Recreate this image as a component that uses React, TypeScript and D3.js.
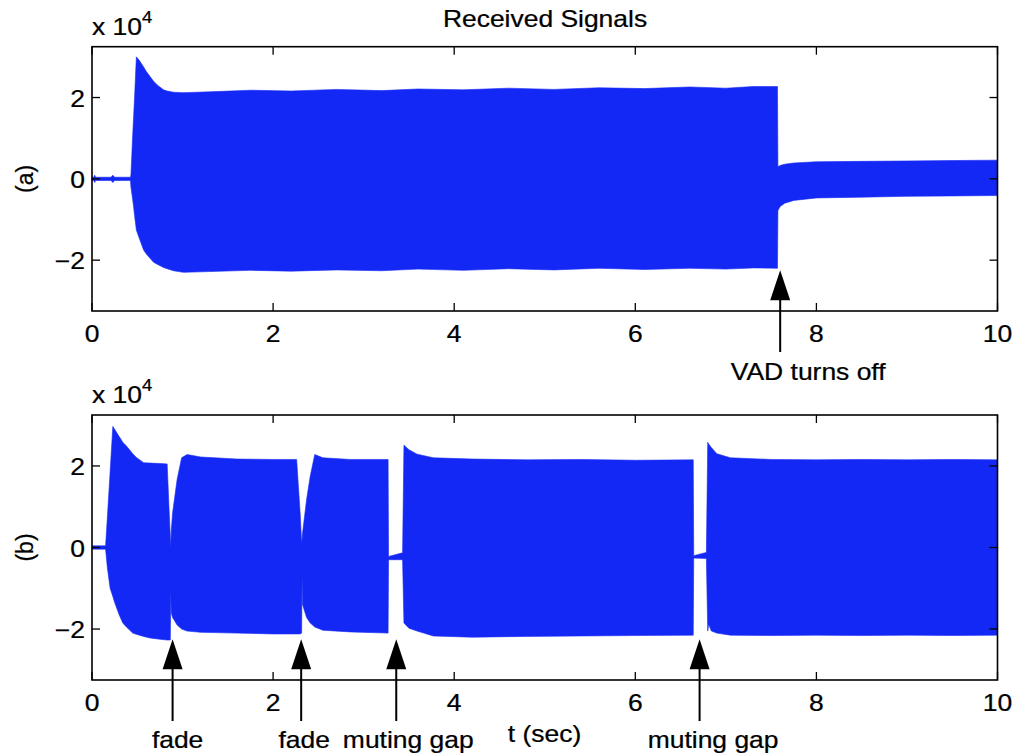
import React from 'react';
import * as d3 from 'd3';

// ---------- data (signal envelope, units of 1e4) ----------
const xTicks = [0, 2, 4, 6, 8, 10];
const yTicks = [-2, 0, 2];
const yTickLabels = ['\u22122', '0', '2'];

// Panel (a)
const tA = [0, 0.02, 0.03, 0.04, 0.21, 0.23, 0.25, 0.425, 0.43, 0.45, 0.46, 0.47, 0.49, 0.52, 0.57, 0.6, 0.68, 0.72, 0.79, 0.83, 0.9, 1.01, 1.3, 1.75, 2.2, 2.7, 3.2, 3.6, 4.1, 4.6, 5.1, 5.6, 6.1, 6.6, 7.0, 7.3, 7.57, 7.575, 7.6, 7.65, 7.75, 8.0, 8.5, 9.0, 9.5, 10];
const upA = [0.04, 0.04, 0.09, 0.04, 0.04, 0.09, 0.04, 0.04, 0.1, 1.1, 1.55, 2.0, 3.0, 2.92, 2.75, 2.64, 2.4, 2.31, 2.19, 2.16, 2.13, 2.12, 2.14, 2.18, 2.16, 2.2, 2.17, 2.21, 2.19, 2.23, 2.2, 2.24, 2.22, 2.26, 2.23, 2.27, 2.27, 0.3, 0.33, 0.36, 0.39, 0.42, 0.43, 0.44, 0.45, 0.46];
const loA = [-0.04, -0.04, -0.09, -0.04, -0.04, -0.09, -0.04, -0.04, -0.2, -0.52, -0.7, -0.9, -1.26, -1.45, -1.75, -1.85, -2.05, -2.1, -2.18, -2.21, -2.26, -2.3, -2.28, -2.25, -2.27, -2.24, -2.26, -2.22, -2.25, -2.21, -2.24, -2.2, -2.23, -2.2, -2.22, -2.19, -2.2, -0.78, -0.68, -0.6, -0.53, -0.47, -0.45, -0.43, -0.42, -0.41];

// Panel (b)
const tB = [0, 0.15, 0.17, 0.2, 0.23, 0.25, 0.3, 0.34, 0.38, 0.45, 0.49, 0.57, 0.64, 0.75, 0.83, 0.85, 0.865, 0.87, 0.875, 0.89, 0.94, 0.99, 1.05, 1.2, 1.6, 2.0, 2.26, 2.3, 2.315, 2.32, 2.325, 2.37, 2.41, 2.46, 2.55, 2.85, 3.27, 3.275, 3.43, 3.445, 3.5, 3.59, 3.77, 4.2, 4.8, 5.4, 6.0, 6.64, 6.645, 6.785, 6.8, 6.81, 6.84, 6.9, 7.05, 7.5, 8.0, 8.5, 9.0, 9.5, 10];
const upB = [0.04, 0.04, 0.75, 1.85, 2.97, 2.9, 2.72, 2.58, 2.49, 2.3, 2.21, 2.08, 2.07, 2.06, 2.05, 1.0, 0.25, 0.0, 0.4, 0.85, 1.67, 2.2, 2.28, 2.22, 2.17, 2.16, 2.16, 0.8, 0.11, 0.2, 0.35, 1.18, 1.75, 2.28, 2.2, 2.16, 2.16, -0.22, -0.13, 2.51, 2.4, 2.29, 2.2, 2.17, 2.15, 2.16, 2.14, 2.15, -0.2, -0.12, 2.58, 2.54, 2.45, 2.3, 2.2, 2.16, 2.15, 2.16, 2.15, 2.16, 2.15];
const loB = [-0.04, -0.04, -0.5, -1.0, -1.2, -1.35, -1.65, -1.85, -1.95, -2.1, -2.13, -2.18, -2.22, -2.25, -2.27, -2.27, -2.27, -1.05, -1.6, -1.72, -1.9, -2.0, -2.05, -2.08, -2.1, -2.12, -2.12, -2.12, -2.1, -0.71, -1.4, -1.72, -1.85, -1.95, -2.03, -2.07, -2.1, -0.3, -0.3, -1.85, -1.98, -2.05, -2.17, -2.2, -2.18, -2.17, -2.16, -2.15, -0.26, -0.27, -2.05, -1.88, -2.05, -2.1, -2.15, -2.16, -2.15, -2.16, -2.15, -2.16, -2.15];

// Annotations
const arrowTimesA = [7.6];
const arrowLabelsA = ['VAD turns off'];
const arrowTimesB = [0.89, 2.31, 3.36, 6.71];
const arrowLabelsB = ['fade', 'fade', 'muting gap', 'muting gap'];
const arrowTipValue = -2.25;

// ---------- layout ----------
const W = 1016, H = 756;
const X0 = 92, X1 = 997.5;
const FONT = '"Liberation Sans", Arial, Helvetica, sans-serif';
const BLUE = '#1428f5';

function T({ x, y, children, anchor = 'middle', size = 23, rotate = 0, sx = 1.15 }: any) {
  return (
    <text
      transform={`translate(${x},${y}) rotate(${rotate}) scale(${sx},1)`}
      textAnchor={anchor}
      fontSize={size}
      fontFamily={FONT}
      fill="#000"
      stroke="#000"
      strokeWidth={0.25}
    >
      {children}
    </text>
  );
}

function Panel({ t, up, lo, top, bottom, arrows, labels, labelDx, name }: any) {
  const x = d3.scaleLinear().domain([0, 10]).range([X0, X1]);
  const y = d3.scaleLinear().domain([-3.25, 3.25]).range([bottom, top]);
  const data = t.map((tt: number, i: number) => ({ t: tt, u: up[i], l: lo[i] }));
  const area = d3
    .area<any>()
    .x((d) => x(d.t))
    .y0((d) => y(d.l))
    .y1((d) => y(d.u));
  const tl = 8;
  return (
    <g>
      <path d={area(data) || ''} fill={BLUE} stroke={BLUE} strokeWidth={0.6} />
      <rect x={X0} y={top} width={X1 - X0} height={bottom - top} fill="none" stroke="#000" strokeWidth={1.6} />
      {xTicks.map((v) => (
        <g key={'x' + v}>
          <line x1={x(v)} x2={x(v)} y1={bottom} y2={bottom - tl} stroke="#000" strokeWidth={1.3} />
          <line x1={x(v)} x2={x(v)} y1={top} y2={top + tl} stroke="#000" strokeWidth={1.3} />
          <T x={x(v)} y={bottom + 31}>{String(v)}</T>
        </g>
      ))}
      {yTicks.map((v, i) => (
        <g key={'y' + v}>
          <line x1={X0} x2={X0 + tl} y1={y(v)} y2={y(v)} stroke="#000" strokeWidth={1.3} />
          <line x1={X1} x2={X1 - tl} y1={y(v)} y2={y(v)} stroke="#000" strokeWidth={1.3} />
          <T x={85} y={y(v) + 9} anchor="end">{yTickLabels[i]}</T>
        </g>
      ))}
      <T x={X0} y={top - 12} anchor="start" size={23}>
        x 10<tspan dy={-12} fontSize={16}>4</tspan>
      </T>
      <T x={25} y={y(0)} rotate={-90} sx={1} size={23}>
        <tspan dy={8}>{name}</tspan>
      </T>
      {arrows.map((at: number, i: number) => {
        const ax = x(at);
        const tip = y(arrowTipValue);
        return (
          <g key={'a' + i}>
            <path d={`M${ax},${tip} L${ax - 10},${tip + 30} L${ax + 10},${tip + 30} Z`} fill="#000" />
            <line x1={ax} x2={ax} y1={tip + 29} y2={bottom + 41} stroke="#000" strokeWidth={2} />
            <T x={ax + labelDx[i]} y={labels === arrowLabelsA ? bottom + 69 : bottom + 68}>{labels[i]}</T>
          </g>
        );
      })}
    </g>
  );
}

export default function App() {
  return (
    <svg
      width={W}
      height={H}
      style={{ position: 'absolute', left: 0, top: 0, display: 'block', background: '#fff' }}
    >
      <rect x={0} y={0} width={W} height={H} fill="#fff" />
      <T x={545} y={27} size={23}>Received Signals</T>
      <Panel t={tA} up={upA} lo={loA} top={46.7} bottom={311} arrows={arrowTimesA} labels={arrowLabelsA} labelDx={[28]} name="(a)" />
      <Panel t={tB} up={upB} lo={loB} top={415} bottom={680} arrows={arrowTimesB} labels={arrowLabelsB} labelDx={[5, 3, 12, 13.5]} name="(b)" />
      <T x={544.5} y={742}>t (sec)</T>
    </svg>
  );
}
